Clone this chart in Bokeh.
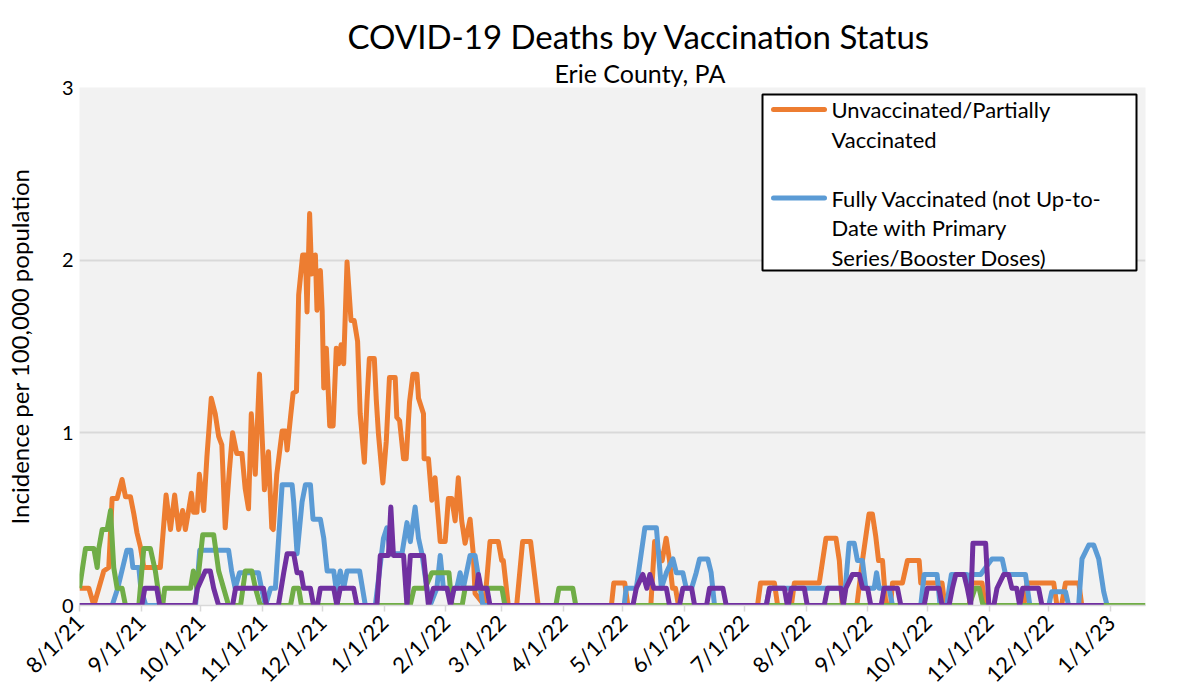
import math
import pandas as pd
from bokeh.plotting import figure
from bokeh.models import FixedTicker, Label, Range1d, Title, BoxAnnotation, Arrow
from bokeh.embed import file_html
from bokeh.resources import INLINE

# ---------------- data (days since 8/1/21, incidence per 100,000) ----------------
start_date = "2021-08-01"

unvax_day = [0, 4.7, 7.2, 9.7, 12.2, 14.7, 16.4, 18.9, 21.4, 23.1, 25.6, 27.3, 28.9, 30.6, 32.3,
             40.6, 43.5, 45.7, 47.8, 49.8, 51.8, 53.2, 54.8, 56.2, 57.3, 59.0, 60.2, 62.4, 64.0,
             66.2, 68.2, 69.9, 71.5, 73.2, 75.2, 76.9, 79.0, 81.6, 83.2, 84.9, 86.3, 88.3, 90.4,
             92.9, 94.9, 96.6, 97.3, 99.1, 101.8, 103.5, 104.3, 106.0, 107.3, 109.0, 110.1, 112.1,
             113.5, 114.3, 115.6, 116.6, 118.5, 119.3, 121.0, 121.9, 122.7, 124.0, 125.7, 127.4,
             129.0, 130.2, 131.4, 132.7, 134.4, 136.4, 138.0, 139.7, 141.0, 143.1, 144.4, 145.6,
             148.1, 149.1, 150.2, 152.4, 154.1, 155.7, 158.6, 159.4, 160.8, 162.8, 164.1, 165.8,
             167.5, 169.5, 170.3, 172.8, 173.1, 175.3, 177.0, 178.6, 181.2, 183.7, 185.3, 187.0,
             188.7, 190.3, 192.0, 193.7, 196.2, 197.8, 198.7, 203.5, 206.2, 210.4, 212.1, 212.9,
             215.4, 219.6, 222.6, 226.6, 230.4, 267.2, 268.4, 273.9, 275.5, 287.0, 288.9, 292.7,
             294.7, 296.4, 297.9, 299.4, 300.9, 340.6, 342.1, 349.1, 350.7, 357.6, 359.1, 371.6,
             373.3, 375.0, 380.0, 381.7, 383.2, 390.5, 393.3, 396.6, 398.3, 400.0, 401.4, 403.4,
             405.1, 407.4, 408.4, 413.4, 415.9, 421.8, 422.6, 433.3, 434.7, 446.9, 448.4, 453.4,
             454.9, 474.4, 476.0, 489.4, 491.0, 493.3, 495.3, 502.0, 503.5, 516.0]
unvax_val = [0.10, 0.10, 0.0, 0.10, 0.20, 0.22, 0.62, 0.62, 0.73, 0.63, 0.63, 0.53, 0.42, 0.34, 0.22,
             0.22, 0.64, 0.44, 0.64, 0.44, 0.55, 0.44, 0.55, 0.65, 0.54, 0.54, 0.76, 0.55, 0.86,
             1.20, 1.11, 0.98, 0.93, 0.45, 0.77, 1.00, 0.88, 0.88, 0.68, 0.56, 1.11, 0.76, 1.34,
             0.67, 0.89, 0.45, 0.44, 0.76, 1.01, 1.01, 0.90, 1.09, 1.23, 1.24, 1.80, 2.03,
             2.03, 1.70, 2.27, 1.92, 2.03, 1.71, 1.94, 1.71, 1.26, 1.49, 1.04, 1.04,
             1.49, 1.40, 1.51, 1.40, 1.99, 1.65, 1.65, 1.53, 1.11, 0.83, 1.18, 1.43,
             1.43, 1.19, 0.99, 0.71, 0.95, 1.32, 1.32, 1.09, 1.07, 0.85, 0.85, 1.18,
             1.34, 1.34, 1.20, 1.11, 0.85, 0.85, 0.61, 0.74, 0.37, 0.37, 0.62, 0.62,
             0.49, 0.74, 0.49, 0.36, 0.50, 0.30, 0.07, 0.0, 0.37, 0.37, 0.26, 0.26,
             0.0, 0.0, 0.37, 0.37, 0.0, 0.0, 0.13, 0.13, 0.0, 0.0, 0.37, 0.26,
             0.39, 0.26, 0.10, 0.10, 0.0, 0.0, 0.13, 0.13, 0.0, 0.0, 0.13, 0.13,
             0.26, 0.39, 0.39, 0.26, 0.0, 0.0, 0.26, 0.53, 0.53, 0.40, 0.26, 0.26,
             0.0, 0.0, 0.13, 0.13, 0.26, 0.26, 0.13, 0.13, 0.0, 0.0, 0.13, 0.13,
             0.0, 0.0, 0.13, 0.13, 0.0, 0.0, 0.13, 0.13, 0.0, 0.0]

fully_day = [0, 16.4, 19.2, 23.8, 25.8, 26.8, 29.8, 30.8, 33.3, 58.3, 60.4, 74.9, 76.4, 78.2, 80.4,
             89.9, 91.4, 93.4, 96.0, 98.4, 101.8, 106.8, 107.6, 109.3, 111.8, 113.5, 116.0, 117.3,
             121.0, 122.7, 124.4, 127.7, 129.0, 131.0, 132.7, 134.4, 140.7, 143.6, 148.6, 152.7,
             154.4, 156.1, 162.0, 164.5, 166.2, 168.6, 170.3, 172.0, 174.5, 176.1, 179.5, 181.2,
             182.8, 189.5, 191.2, 192.8, 196.2, 198.7, 202.7, 273.6, 274.6, 279.7, 284.0, 289.8,
             292.3, 294.8, 298.1, 299.8, 303.1, 304.8, 307.5, 309.8, 311.5, 315.6, 317.3, 319.0,
             345.0, 346.6, 384.7, 386.6, 389.2, 390.8, 393.3, 395.0, 399.2, 400.4, 401.7, 406.7,
             408.4, 422.6, 424.3, 430.8, 432.3, 435.6, 438.0, 445.8, 446.8, 447.8, 452.7, 458.4,
             463.5, 465.2, 475.2, 477.4, 486.9, 488.4, 495.3, 496.9, 501.9, 503.6, 507.0, 509.5,
             512.0, 514.5, 516.2]
fully_val = [0, 0, 0.10, 0.32, 0.32, 0.22, 0.22, 0.10, 0, 0, 0.32, 0.32, 0.20, 0.10, 0.19,
             0.19, 0.10, 0, 0.10, 0.10, 0.70, 0.70, 0.60, 0.30, 0.60, 0.70, 0.70, 0.50,
             0.50, 0.39, 0.20, 0.20, 0.09, 0.20, 0.10, 0.20, 0.20, 0, 0, 0.39,
             0.45, 0.30, 0.30, 0.48, 0.37, 0.57, 0.39, 0.30, 0.10, 0, 0.10, 0.29,
             0.10, 0.10, 0.19, 0.10, 0.29, 0.29, 0, 0, 0.10, 0.10, 0.45, 0.45,
             0.10, 0.19, 0.27, 0.19, 0.19, 0.10, 0.10, 0.19, 0.27, 0.27, 0.19, 0,
             0, 0.10, 0.10, 0.36, 0.36, 0.26, 0.26, 0.10, 0.10, 0.19, 0.10, 0.10,
             0, 0, 0.18, 0.18, 0, 0, 0.18, 0.18, 0.10, 0.18, 0.18, 0.27,
             0.27, 0.18, 0.18, 0, 0, 0.08, 0.08, 0, 0, 0.27, 0.35, 0.35,
             0.27, 0.08, 0]

green_day = [0, 3.0, 7.2, 8.9, 9.7, 11.4, 13.9, 15.6, 17.2, 18.9, 21.4, 23.1, 29.8, 32.3, 35.6,
             38.1, 40.6, 41.8, 42.8, 55.8, 57.2, 59.0, 61.9, 67.4, 69.9, 72.4, 74.9, 80.9, 83.3,
             86.6, 88.4, 90.8, 106.0, 107.6, 110.1, 111.5, 166.1, 168.1, 173.6, 177.0, 185.6,
             187.1, 192.2, 193.7, 212.2, 213.7, 239.3, 240.8, 247.8, 249.3, 446.9, 449.9, 451.9,
             453.9, 535.5]
green_val = [0.10, 0.33, 0.33, 0.22, 0.33, 0.44, 0.44, 0.55, 0.22, 0.10, 0.10, 0, 0, 0.33, 0.33,
             0.20, 0, 0, 0.10, 0.10, 0.20, 0.10, 0.41, 0.41, 0.20, 0.10, 0, 0, 0.20,
             0.20, 0.10, 0, 0, 0.10, 0.10, 0, 0, 0.10, 0.10, 0.19, 0.19,
             0, 0, 0.10, 0.10, 0, 0, 0.10, 0.10, 0, 0, 0.10, 0.10,
             0, 0]

purple_day = [0, 31.3, 32.8, 38.8, 40.3, 57.8, 59.3, 63.2, 65.7, 67.4, 69.9, 76.9, 78.4, 92.4, 93.9,
              99.9, 102.6, 104.3, 107.6, 109.3, 111.3, 112.6, 116.0, 117.6, 119.5, 121.0, 127.7,
              129.3, 131.0, 137.7, 139.4, 149.4, 151.1, 155.2, 156.4, 157.7, 162.8, 164.5, 166.2,
              172.8, 175.3, 177.8, 184.6, 186.4, 188.2, 199.5, 200.4, 201.7, 204.7, 206.2, 278.0,
              279.7, 283.0, 285.0, 286.5, 288.5, 294.8, 296.4, 301.4, 303.1, 307.5, 309.0, 315.0,
              316.5, 323.2, 324.9, 345.0, 346.6, 354.1, 355.6, 356.1, 357.6, 364.1, 365.6, 374.1,
              375.8, 382.5, 383.7, 385.0, 388.3, 391.7, 393.4, 395.9, 397.5, 402.7, 404.2, 410.9,
              412.6, 424.3, 425.9, 431.8, 433.3, 436.8, 438.5, 440.2, 444.3, 446.0, 447.7, 448.8,
              455.2, 456.8, 459.3, 460.9, 464.3, 466.7, 468.4, 470.8, 472.3, 473.8, 481.8, 483.5,
              514.5]
purple_val = [0, 0, 0.10, 0.10, 0, 0, 0.10, 0.20, 0.20, 0.10, 0, 0, 0.10, 0.10, 0,
              0, 0.19, 0.30, 0.30, 0.19, 0.19, 0.10, 0.10, 0, 0, 0.10, 0.10,
              0, 0.10, 0.10, 0, 0, 0.29, 0.29, 0.57, 0.29, 0.29, 0, 0.29,
              0.29, 0, 0.10, 0.10, 0, 0.10, 0.10, 0.18, 0.10, 0.10, 0, 0,
              0.10, 0.18, 0.10, 0.18, 0.10, 0.10, 0, 0, 0.10, 0.10, 0, 0,
              0.10, 0.10, 0, 0, 0.10, 0.10, 0, 0, 0.10, 0.10, 0, 0,
              0.10, 0.10, 0, 0.10, 0.18, 0.18, 0.10, 0.10, 0, 0, 0.10, 0.10,
              0, 0, 0.10, 0.10, 0, 0, 0.10, 0.18, 0.18, 0.10, 0, 0.36,
              0.36, 0, 0, 0.10, 0.18, 0.18, 0.10, 0.10, 0, 0.10, 0.10, 0,
              0]

tick_dates = pd.date_range("2021-08-01", "2023-01-01", freq="MS")
tick_labels = [f"{d.month}/{d.day}/{d.strftime('%y')}" for d in tick_dates]
x_end_day = 535.5

legend_unvax_lines = ["Unvaccinated/Partially", "Vaccinated"]
legend_fully_lines = ["Fully Vaccinated (not Up-to-", "Date with Primary", "Series/Booster Doses)"]
title_text = "COVID-19 Deaths by Vaccination Status"
subtitle_text = "Erie County, PA"

# ---------------- figure ----------------
t0 = pd.Timestamp(start_date)
def to_dt(days):
    return [t0 + pd.Timedelta(days=float(d)) for d in days]

FONT = "Lato"
p = figure(width=1161, height=700, x_axis_type="datetime", output_backend="svg",
           toolbar_location=None, title=None,
           x_range=Range1d(t0, t0 + pd.Timedelta(days=x_end_day)), y_range=Range1d(0, 3),
           min_border_left=79, min_border_right=16, min_border_top=87, min_border_bottom=95)
p.background_fill_color = "#F2F2F2"
p.border_fill_color = "white"
p.outline_line_color = None

colors = {"unvax": "#ED7D31", "fully": "#5B9BD5", "green": "#70AD47", "purple": "#7030A0"}
lw = 5
r_unvax = p.line(to_dt(unvax_day), unvax_val, line_color=colors["unvax"], line_width=lw, line_join="round")
r_fully = p.line(to_dt(fully_day), fully_val, line_color=colors["fully"], line_width=lw, line_join="round")
r_green = p.line(to_dt(green_day), green_val, line_color=colors["green"], line_width=lw, line_join="round")
r_purple = p.line(to_dt(purple_day), purple_val, line_color=colors["purple"], line_width=lw, line_join="round")

# axes
tick_ms = [float(d.value // 10**6) for d in tick_dates]
p.xaxis.ticker = FixedTicker(ticks=tick_ms)
p.xaxis.major_label_overrides = {ms: lab for ms, lab in zip(tick_ms, tick_labels)}
p.xaxis.major_label_orientation = math.pi / 4
p.xaxis.major_label_text_font = FONT
p.xaxis.major_label_text_font_size = "22px"
p.xaxis.major_label_text_color = "black"
p.xaxis.axis_line_color = "#D9D9D9"
p.xaxis.axis_line_width = 1.5
p.xaxis.major_tick_line_color = "#D9D9D9"
p.xaxis.major_tick_line_width = 1.5
p.xaxis.major_tick_out = 6
p.xaxis.major_tick_in = 0
p.xaxis.minor_tick_line_color = None
p.xaxis.major_label_standoff = 7

p.yaxis.ticker = FixedTicker(ticks=[0, 1, 2, 3])
p.yaxis.axis_line_color = None
p.yaxis.major_tick_line_color = None
p.yaxis.minor_tick_line_color = None
p.yaxis.major_tick_out = 0
p.yaxis.major_tick_in = 0
p.yaxis.major_label_text_font = FONT
p.yaxis.major_label_text_font_size = "20px"
p.yaxis.major_label_text_color = "black"
p.yaxis.major_label_standoff = 6
p.yaxis.axis_label = "Incidence per 100,000 population"
p.yaxis.axis_label_text_font = FONT
p.yaxis.axis_label_text_font_size = "24px"
p.yaxis.axis_label_text_font_style = "normal"
p.yaxis.axis_label_text_color = "black"
p.yaxis.axis_label_standoff = 25

p.xgrid.grid_line_color = None
p.ygrid.grid_line_color = "#D9D9D9"
p.ygrid.grid_line_width = 2

# ---------------- legend (frame-relative screen units) ----------------
p.add_layout(BoxAnnotation(left=683, right=1057, top=511, bottom=335,
                           left_units="screen", right_units="screen",
                           top_units="screen", bottom_units="screen",
                           fill_color="white", fill_alpha=1.0,
                           line_color="black", line_width=2, line_alpha=1.0))
legend_blocks = [(colors["unvax"], legend_unvax_lines, 496),
                 (colors["fully"], legend_fully_lines, 407.5)]
line_step = 29.6
for col, lines, y0 in legend_blocks:
    p.add_layout(Arrow(x_start=694, y_start=y0, x_end=745, y_end=y0,
                       start_units="screen", end_units="screen", start=None, end=None,
                       line_color=col, line_width=5, line_cap="round"))
    for i, txt in enumerate(lines):
        p.add_layout(Label(x=752, y=y0 - i * line_step, x_units="screen", y_units="screen",
                           text=txt, text_font=FONT, text_font_size="22px",
                           text_align="left", text_baseline="middle", text_color="black"))

# ---------------- titles ----------------
p.add_layout(Title(text=subtitle_text, align="left", offset=475, standoff=0,
                   text_font=FONT, text_font_size="25px", text_font_style="normal",
                   text_color="black"), "above")
p.add_layout(Title(text=title_text, align="left", offset=268, standoff=0,
                   text_font=FONT, text_font_size="33px", text_font_style="normal",
                   text_color="black"), "above")

open("out.html", "w").write(file_html(p, INLINE))
